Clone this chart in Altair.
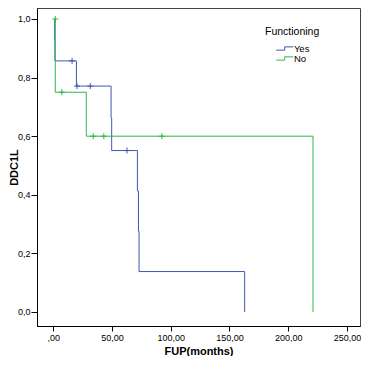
import altair as alt
import pandas as pd

# Kaplan-Meier step points (time in months, cumulative value)
yes_time = [1.2, 1.2, 1.4, 19.7, 49.2, 49.7, 71.6, 72.5, 73.0, 162.9]
yes_surv = [1.0, 0.929, 0.857, 0.771, 0.661, 0.551, 0.413, 0.276, 0.138, 0.0]
no_time = [1.7, 1.7, 28.1, 221.1]
no_surv = [1.0, 0.75, 0.60, 0.0]

# censored observations
yes_cens_time = [16.0, 20.2, 31.5, 62.7]
yes_cens_surv = [0.857, 0.771, 0.771, 0.551]
no_cens_time = [1.7, 7.3, 34.0, 43.0, 92.4]
no_cens_surv = [1.0, 0.75, 0.60, 0.60, 0.60]

groups = ["Yes", "No"]
colors = ["#3E58AC", "#2EB848"]
x_ticks = [0, 50, 100, 150, 200, 250]
y_ticks = [0.0, 0.2, 0.4, 0.6, 0.8, 1.0]

steps = pd.DataFrame({
    "time": yes_time + no_time,
    "surv": yes_surv + no_surv,
    "group": ["Yes"] * len(yes_time) + ["No"] * len(no_time),
    "idx": list(range(len(yes_time))) + list(range(len(no_time))),
})
cens = pd.DataFrame({
    "time": yes_cens_time + no_cens_time,
    "surv": yes_cens_surv + no_cens_surv,
    "group": ["Yes"] * len(yes_cens_time) + ["No"] * len(no_cens_time),
})

FONT = "Liberation Sans"

x_enc = alt.X(
    "time:Q",
    scale=alt.Scale(domain=[-13.87, 261.1], nice=False, zero=False),
    axis=alt.Axis(
        title="FUP(months)", values=x_ticks, grid=False,
        labelExpr="datum.value == 0 ? ',00' : replace(format(datum.value, '.2f'), '.', ',')",
        labelFontSize=9, labelFont=FONT, labelColor="#000", labelPadding=2,
        tickSize=5, tickColor="#000", domainColor="#000",
        titleFont=FONT, titleFontSize=11, titleFontWeight="bold", titleColor="#000",
        titleY=25, titleBaseline="middle",
    ),
)
y_enc = alt.Y(
    "surv:Q",
    scale=alt.Scale(domain=[-0.0478, 1.0375], nice=False, zero=False),
    axis=alt.Axis(
        title="DDC1L", values=y_ticks, grid=False,
        labelExpr="replace(format(datum.value, '.1f'), '.', ',')",
        labelFontSize=9, labelFont=FONT, labelColor="#000", labelPadding=1,
        tickSize=6, tickColor="#000", domainColor="#000",
        titleFont=FONT, titleFontSize=11, titleFontWeight="bold", titleColor="#000",
        titleX=-23, titleBaseline="middle",
    ),
)
color_enc = alt.Color(
    "group:N",
    scale=alt.Scale(domain=groups, range=colors),
    sort=groups,
    legend=alt.Legend(
        title="Functioning", orient="none", legendX=228, legendY=18.5,
        titleFont=FONT, titleFontSize=10.5, titleFontWeight="normal", titleColor="#000",
        titlePadding=6,
        labelFont=FONT, labelFontSize=9.5, labelColor="#000",
        symbolType="M-1.7,0.33L0,0.33L0,-0.33L1.7,-0.33",
        symbolSize=100, symbolStrokeWidth=1, symbolFillColor="transparent",
        symbolOffset=14.2, labelOffset=3.7, rowPadding=-1.5, padding=0,
    ),
)

lines = alt.Chart(steps).mark_line(interpolate="step-after", strokeWidth=1).encode(
    x=x_enc, y=y_enc, color=color_enc, order=alt.Order("idx:Q"),
)
marks = alt.Chart(cens).mark_point(
    shape="M-1,0L1,0M0,-1L0,1", filled=False, size=36, strokeWidth=1, opacity=1,
).encode(x="time:Q", y="surv:Q", color=alt.Color("group:N", legend=None, scale=alt.Scale(domain=groups, range=colors)))

chart = alt.layer(lines, marks).properties(
    width=323, height=318,
    autosize=alt.AutoSizeParams(type="none"),
    padding={"left": 29, "top": 0, "right": 1, "bottom": 30},
    background="white",
).configure_view(stroke="#444", strokeWidth=1)

chart.save("out.html", embed_options={"renderer": "svg", "actions": False})
